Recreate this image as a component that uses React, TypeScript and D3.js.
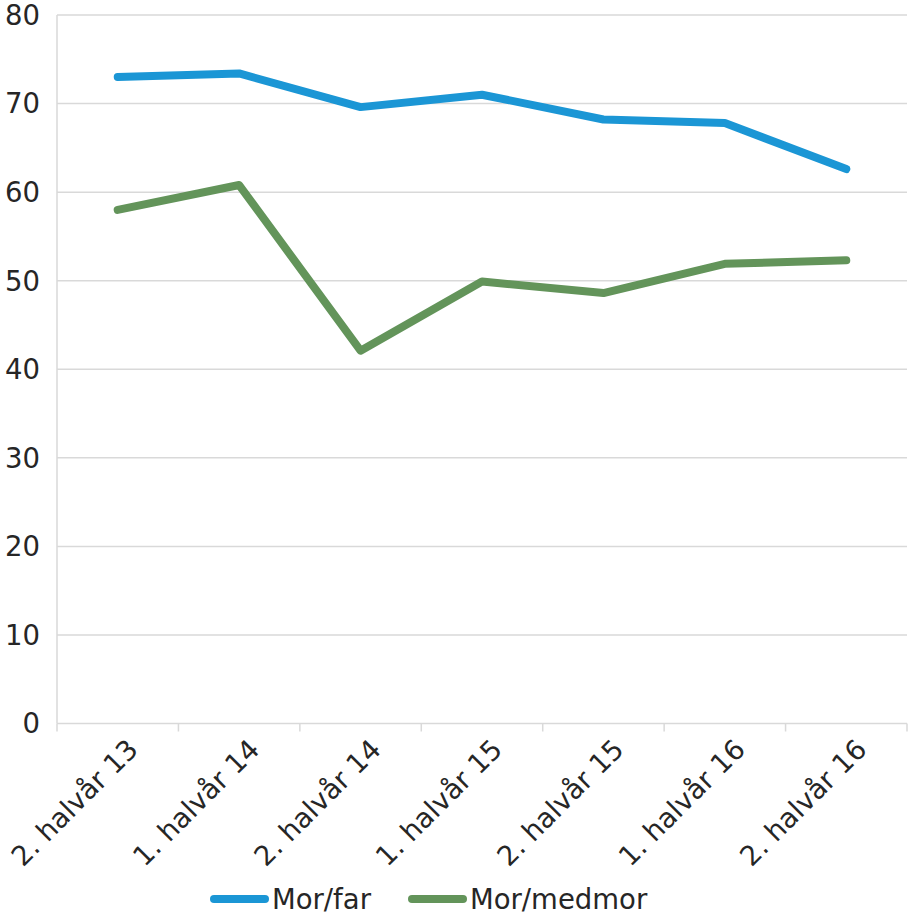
import React from "react";
import * as d3 from "d3";

const categories = ["2. halvår 13", "1. halvår 14", "2. halvår 14", "1. halvår 15", "2. halvår 15", "1. halvår 16", "2. halvår 16"];
const morFar = [73.0, 73.4, 69.6, 71.0, 68.2, 67.8, 62.6];
const morMedmor = [58.0, 60.8, 42.1, 49.9, 48.6, 51.9, 52.3];
const yTicks = [0, 10, 20, 30, 40, 50, 60, 70, 80];
const seriesNames = ["Mor/far", "Mor/medmor"];
const colors = ["#1b96d5", "#63945a"];

const W = 908, H = 919;
const left = 57, right = 907, top = 15, bottom = 723.5;
const FONT = "'DejaVu Sans', Verdana, sans-serif";
const FS = 27.5;

export default function App() {
  const x = d3.scaleBand().domain(categories).range([left, right]).padding(0);
  const y = d3.scaleLinear().domain([0, 80]).range([bottom, top]);
  const line = d3.line<number>().x((_, i) => (x(categories[i]) as number) + x.bandwidth() / 2).y((d) => y(d));
  const series = [morFar, morMedmor];
  const tickXs = categories.map((c) => x(c) as number).concat([right]);
  return (
    <svg width={W} height={H} style={{ position: "absolute", left: 0, top: 0, background: "#fff" }}>
      {yTicks.map((t) => (
        <g key={t}>
          <line x1={left} x2={right} y1={y(t)} y2={y(t)} stroke="#d9d9d9" strokeWidth={1.5} />
          <text x={40} y={y(t)} dy="0.36em" textAnchor="end" fontFamily={FONT} fontSize={FS} fill="#262626">{t}</text>
        </g>
      ))}
      <line x1={left} x2={left} y1={top} y2={bottom} stroke="#d9d9d9" strokeWidth={1.5} />
      {tickXs.map((tx, i) => (
        <line key={i} x1={tx} x2={tx} y1={bottom} y2={bottom + 8} stroke="#d9d9d9" strokeWidth={1.5} />
      ))}
      {categories.map((c) => {
        const cx = (x(c) as number) + x.bandwidth() / 2 + 22;
        return (
          <text key={c} transform={`translate(${cx},751) rotate(-45)`} textAnchor="end" fontFamily={FONT} fontSize={FS} fill="#262626">{c}</text>
        );
      })}
      {series.map((s, i) => (
        <path key={i} d={line(s) || ""} fill="none" stroke={colors[i]} strokeWidth={8} strokeLinecap="round" strokeLinejoin="round" />
      ))}
      {seriesNames.map((n, i) => {
        const lx = i === 0 ? 210 : 408;
        return (
          <g key={n}>
            <line x1={lx + 4} x2={lx + 55} y1={899} y2={899} stroke={colors[i]} strokeWidth={8} strokeLinecap="round" />
            <text x={lx + 62} y={909} fontFamily={FONT} fontSize={FS} fill="#262626">{n}</text>
          </g>
        );
      })}
    </svg>
  );
}
